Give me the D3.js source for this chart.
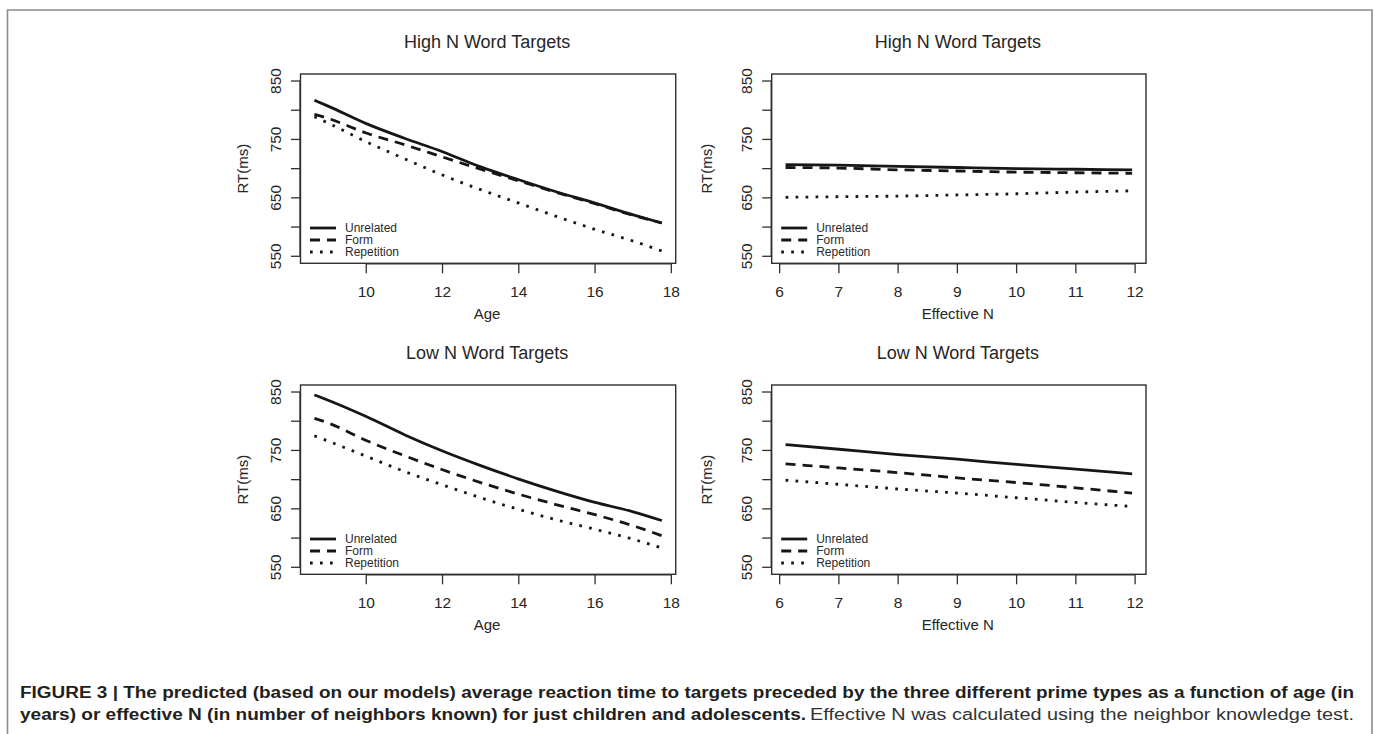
<!DOCTYPE html>
<html><head><meta charset="utf-8">
<script src="https://cdn.jsdelivr.net/npm/d3@7"></script>
<style>
html,body{margin:0;padding:0;background:#fff;}
svg{display:block;}
</style></head><body>
<svg id="chart" width="1375" height="734"></svg>
<script>
// ---------------- data ----------------
const ageValues = [8.64, 9, 10, 11, 12, 13, 14, 15, 16, 17, 17.75];
const effNValues = [6.1, 7, 8, 9, 10, 11, 11.95];

const highAgeUnrelated  = [817, 807, 777, 752, 729, 703, 681, 660, 641, 621, 607];
const highAgeForm       = [793, 786, 761, 741, 720, 699, 679, 659, 640, 620, 607];
const highAgeRepetition = [789, 778, 746, 717, 689, 664, 641, 618, 596, 576, 559];

const highNUnrelated  = [707, 706, 704, 702, 700, 699, 698];
const highNForm       = [702, 701, 698, 696, 694, 693, 692];
const highNRepetition = [651, 652, 653, 655, 657, 660, 662];

const lowAgeUnrelated  = [845, 836, 808, 777, 749, 724, 701, 680, 661, 645, 630];
const lowAgeForm       = [805, 797, 767, 741, 717, 695, 675, 657, 640, 621, 604];
const lowAgeRepetition = [775, 766, 740, 714, 691, 669, 649, 631, 615, 598, 583];

const lowNUnrelated  = [760, 752, 743, 735, 726, 718, 710];
const lowNForm       = [727, 720, 712, 703, 695, 686, 677];
const lowNRepetition = [699, 692, 684, 677, 669, 661, 654];

const primeTypes = ["Unrelated", "Form", "Repetition"];
const panelTitles = ["High N Word Targets", "High N Word Targets", "Low N Word Targets", "Low N Word Targets"];
const xAxisTitles = ["Age", "Effective N", "Age", "Effective N"];
const yAxisTitle = "RT(ms)";
const rtTicks = [550, 600, 650, 700, 750, 800, 850];
const rtTickLabels = [550, 650, 750, 850];
const ageTicks = [10, 12, 14, 16, 18];
const effNTicks = [6, 7, 8, 9, 10, 11, 12];
const rtLimits = [550, 850];

const captionLine1 = "FIGURE 3 | The predicted (based on our models) average reaction time to targets preceded by the three different prime types as a function of age (in";
const captionLine2Bold = "years) or effective N (in number of neighbors known) for just children and adolescents.";
const captionLine2Normal = "Effective N was calculated using the neighbor knowledge test.";

// ---------------- layout ----------------
const panels = [
  {title: panelTitles[0], xTitle: xAxisTitles[0], xs: ageValues, xTicks: ageTicks,
   series: [highAgeUnrelated, highAgeForm, highAgeRepetition],
   box: {l: 300.5, r: 675.7, t: 74, b: 263.3}, yLabOff: 57.5},
  {title: panelTitles[1], xTitle: xAxisTitles[1], xs: effNValues, xTicks: effNTicks,
   series: [highNUnrelated, highNForm, highNRepetition],
   box: {l: 771.7, r: 1146, t: 74, b: 263.3}, yLabOff: 65},
  {title: panelTitles[2], xTitle: xAxisTitles[2], xs: ageValues, xTicks: ageTicks,
   series: [lowAgeUnrelated, lowAgeForm, lowAgeRepetition],
   box: {l: 300.5, r: 675.7, t: 385, b: 574.3}, yLabOff: 57.5},
  {title: panelTitles[3], xTitle: xAxisTitles[3], xs: effNValues, xTicks: effNTicks,
   series: [lowNUnrelated, lowNForm, lowNRepetition],
   box: {l: 771.7, r: 1146, t: 385, b: 574.3}, yLabOff: 65}
];

const dashes = [null, "10,7", "2.7,7.3"];
const ink = "#161616";
const textInk = "#262626";
const font = "'Liberation Sans', Arial, Helvetica, sans-serif";

const svg = d3.select("#chart");

// outer frame (open at bottom)
svg.append("path")
  .attr("d", "M7.5,734 V10 H1372 V734")
  .attr("fill", "none").attr("stroke", "#8c8c8c").attr("stroke-width", 1.6);

function expand(ext) {
  const r = ext[1] - ext[0];
  return [ext[0] - 0.04 * r, ext[1] + 0.04 * r];
}

panels.forEach(p => {
  const b = p.box;
  const x = d3.scaleLinear().domain(expand(d3.extent(p.xs))).range([b.l, b.r]);
  const y = d3.scaleLinear().domain(expand(rtLimits)).range([b.b, b.t]);
  const g = svg.append("g");

  // title
  g.append("text")
    .attr("x", (b.l + b.r) / 2 - 1).attr("y", b.t - 26)
    .attr("text-anchor", "middle")
    .style("font-family", font).style("font-size", "18px").attr("fill", textInk)
    .text(p.title);

  // box
  g.append("rect")
    .attr("x", b.l).attr("y", b.t).attr("width", b.r - b.l).attr("height", b.b - b.t)
    .attr("fill", "none").attr("stroke", "#303030").attr("stroke-width", 1.4);

  // y axis
  const ya = g.append("g");
  ya.append("line")
    .attr("x1", b.l - 0.5).attr("x2", b.l - 0.5)
    .attr("y1", y(rtTicks[0])).attr("y2", y(rtTicks[rtTicks.length - 1]))
    .attr("stroke", "#303030").attr("stroke-width", 1.3);
  ya.selectAll("line.tk").data(rtTicks).join("line").attr("class", "tk")
    .attr("x1", b.l - 0.5).attr("x2", b.l - 9.5)
    .attr("y1", d => y(d)).attr("y2", d => y(d))
    .attr("stroke", "#303030").attr("stroke-width", 1.3);
  ya.selectAll("text").data(rtTickLabels).join("text")
    .attr("transform", d => `translate(${b.l - 25.5},${y(d)}) rotate(-90)`)
    .attr("text-anchor", "middle").attr("dy", "0.36em")
    .style("font-family", font).style("font-size", "15.5px").attr("fill", textInk)
    .text(d => d);
  g.append("text")
    .attr("transform", `translate(${b.l - p.yLabOff},${(b.t + b.b) / 2}) rotate(-90)`)
    .attr("text-anchor", "middle").attr("dy", "0.36em")
    .style("font-family", font).style("font-size", "15px").attr("fill", textInk)
    .text(yAxisTitle);

  // x axis
  const xa = g.append("g");
  const xt = p.xTicks;
  xa.append("line")
    .attr("x1", x(xt[0])).attr("x2", x(xt[xt.length - 1]))
    .attr("y1", b.b + 0.5).attr("y2", b.b + 0.5)
    .attr("stroke", "#303030").attr("stroke-width", 1.3);
  xa.selectAll("line.tk").data(xt).join("line").attr("class", "tk")
    .attr("x1", d => x(d)).attr("x2", d => x(d))
    .attr("y1", b.b + 0.5).attr("y2", b.b + 10)
    .attr("stroke", "#303030").attr("stroke-width", 1.3);
  xa.selectAll("text").data(xt).join("text")
    .attr("x", d => x(d)).attr("y", b.b + 34)
    .attr("text-anchor", "middle")
    .style("font-family", font).style("font-size", "15.5px").attr("fill", textInk)
    .text(d => d);
  g.append("text")
    .attr("x", (b.l + b.r) / 2 - 1).attr("y", b.b + 56)
    .attr("text-anchor", "middle")
    .style("font-family", font).style("font-size", "15px").attr("fill", textInk)
    .text(p.xTitle);

  // lines
  const line = d3.line()
    .x((d, i) => x(p.xs[i]))
    .y(d => y(d))
    .curve(d3.curveMonotoneX);
  p.series.forEach((s, k) => {
    g.append("path")
      .attr("d", line(s))
      .attr("fill", "none").attr("stroke", ink)
      .attr("stroke-width", 2.8)
      .attr("stroke-dasharray", dashes[k]);
  });

  // legend
  const lg = g.append("g");
  primeTypes.forEach((name, k) => {
    const ly = b.b - 35.3 + k * 12;
    lg.append("line")
      .attr("x1", b.l + 9.5).attr("x2", b.l + 35.5)
      .attr("y1", ly).attr("y2", ly)
      .attr("stroke", ink).attr("stroke-width", 2.8)
      .attr("stroke-dasharray", dashes[k]);
    lg.append("text")
      .attr("x", b.l + 44.5).attr("y", ly).attr("dy", "0.36em")
      .style("font-family", font).style("font-size", "12px").attr("fill", "#2a2a2a")
      .text(name);
  });
});

// caption
const capFont = "'Liberation Sans Narrow', 'Arial Narrow', 'Liberation Sans', Arial, sans-serif";
svg.append("text")
  .attr("x", 20).attr("y", 698)
  .attr("textLength", 1334).attr("lengthAdjust", "spacingAndGlyphs")
  .style("font-family", capFont).style("font-size", "16px").style("font-weight", "bold")
  .attr("fill", "#231f20")
  .text(captionLine1);
svg.append("text")
  .attr("x", 20).attr("y", 720)
  .attr("textLength", 786).attr("lengthAdjust", "spacingAndGlyphs")
  .style("font-family", capFont).style("font-size", "16px").style("font-weight", "bold")
  .attr("fill", "#231f20")
  .text(captionLine2Bold);
svg.append("text")
  .attr("x", 810).attr("y", 720)
  .attr("textLength", 544).attr("lengthAdjust", "spacingAndGlyphs")
  .style("font-family", capFont).style("font-size", "16px")
  .attr("fill", "#333")
  .text(captionLine2Normal);
</script>
</body></html>
